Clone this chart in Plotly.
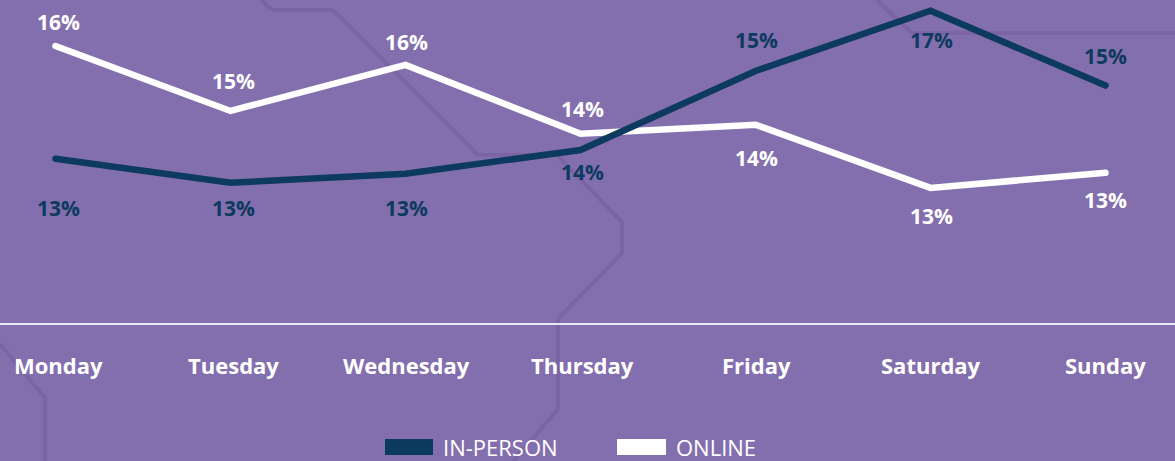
import plotly.graph_objects as go

days = ["Monday", "Tuesday", "Wednesday", "Thursday", "Friday", "Saturday", "Sunday"]
in_person = [13.4, 12.84, 13.05, 13.6, 15.44, 16.84, 15.1]
online = [16.02, 14.51, 15.58, 13.98, 14.19, 12.72, 13.07]
in_person_labels = ["13%", "13%", "13%", "14%", "15%", "17%", "15%"]
online_labels = ["16%", "15%", "16%", "14%", "14%", "13%", "13%"]

# label offsets from the point (px, positive = up / right)
in_person_shift = [-49, -25, -34, -22, 31, -29, 30]
online_shift = [24, 30, 23, 25, -33, -28, -27]
label_xshift = [3, 3, 1, 1.5, 1, 0.5, 0]

BG = "#846fae"
DECOR = "#7a64a4"
NAVY = "#0d3a5f"
WHITE = "#ffffff"
FONT = "Open Sans"
W, H = 1175, 461
BASE_PX = 322.5
STEP = 175.0
X0 = 55.5
PX_PER_UNIT = 43.0
TOP_VALUE = 13.5 + 153.5 / PX_PER_UNIT + 0.02
BOTTOM_VALUE = TOP_VALUE - BASE_PX / PX_PER_UNIT

decor_paths = [
    [(261, 0), (272, 10), (333, 10), (478, 155), (557, 155), (622, 222), (622, 253), (558, 319), (558, 409), (494, 484)],
    [(0, 344), (45, 398), (45, 470)],
    [(877, 0), (912, 33), (1180, 33)],
]

shapes = []
for p in decor_paths:
    for (x1, y1), (x2, y2) in zip(p, p[1:]):
        shapes.append(dict(type="line", xref="paper", yref="paper", layer="below",
                           x0=x1 / W, x1=x2 / W, y0=1 - y1 / H, y1=1 - y2 / H,
                           line=dict(color=DECOR, width=4)))

# legend swatches
for x_a, x_b, col in [(385, 433, NAVY), (617, 666, WHITE)]:
    shapes.append(dict(type="rect", xref="paper", yref="paper", layer="above",
                       x0=x_a / W, x1=x_b / W, y0=1 - 455 / H, y1=1 - 439 / H,
                       fillcolor=col, line=dict(width=0)))

fig = go.Figure()
fig.add_trace(go.Scatter(x=days, y=online, mode="lines", name="ONLINE",
                         line=dict(color=WHITE, width=6.5), showlegend=False))
fig.add_trace(go.Scatter(x=days, y=in_person, mode="lines", name="IN-PERSON",
                         line=dict(color=NAVY, width=6.5), showlegend=False))

annotations = []
for vals, labels, shifts, col in [
    (in_person, in_person_labels, in_person_shift, NAVY),
    (online, online_labels, online_shift, WHITE),
]:
    for d, v, t, s, dx in zip(days, vals, labels, shifts, label_xshift):
        annotations.append(dict(x=d, y=v, xref="x", yref="y", text=f"<b>{t}</b>", showarrow=False,
                                yshift=s, xshift=dx,
                                font=dict(family=FONT, size=21, color=col)))
# day names follow the category axis, nudged like the value labels
for d, dx in zip(days, label_xshift):
    annotations.append(dict(x=d, y=1 - 365 / H, xref="x", yref="paper", text=f"<b>{d}</b>", showarrow=False,
                            xshift=dx, yanchor="middle",
                            font=dict(family=FONT, size=22, color=WHITE)))
for x_px, t in [(444, "IN-PERSON"), (677, "ONLINE")]:
    annotations.append(dict(x=x_px / W, y=1 - 446.5 / H, xref="paper", yref="paper", text=t, showarrow=False,
                            xanchor="left", yanchor="middle", xshift=-3,
                            font=dict(family=FONT, size=22, color=WHITE)))

fig.update_layout(
    width=W, height=H, autosize=False,
    margin=dict(l=0, r=0, t=0, b=0),
    paper_bgcolor=BG, plot_bgcolor=BG,
    showlegend=False,
    shapes=shapes, annotations=annotations,
    font=dict(family=FONT, color=WHITE),
    xaxis=dict(type="category", categoryorder="array", categoryarray=days,
               range=[-X0 / STEP, (W - X0) / STEP],
               showgrid=False, zeroline=False, showline=True,
               linecolor="rgba(255,255,255,0.85)", linewidth=1.5,
               ticks="", showticklabels=False),
    yaxis=dict(range=[BOTTOM_VALUE, TOP_VALUE], domain=[1 - BASE_PX / H, 1],
               visible=False, fixedrange=True),
)
fig.write_html("out.html", config=dict(displayModeBar=False),
               post_script="document.body.style.margin='0';document.body.style.overflow='hidden';"
                           "document.documentElement.style.background='%s';"
                           "document.querySelectorAll('.js-line').forEach(function(e){e.style.strokeLinecap='round';});" % BG)
